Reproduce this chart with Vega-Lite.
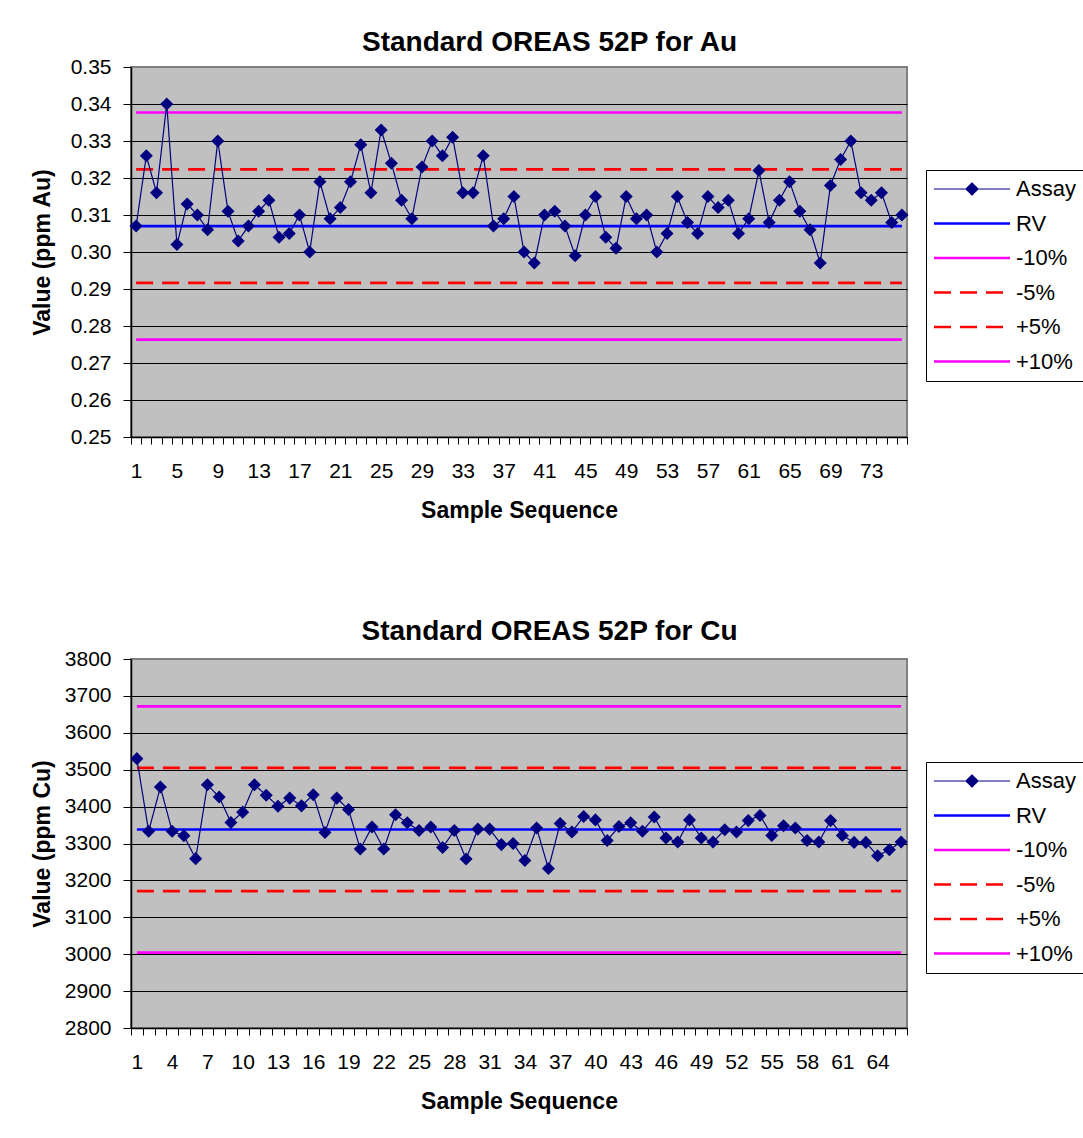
{
  "$schema": "https://vega.github.io/schema/vega-lite/v6.json",
  "padding": {"left": 30, "top": 28, "right": 0, "bottom": 0},
  "background": "white",
  "spacing": 94,
  "columns": 1,
  "align": "none",
  "center": false,
  "resolve": {"scale": {"color": "independent", "strokeDash": "independent"}, "legend": {"color": "independent", "strokeDash": "independent"}},
  "datasets": {
    "au": [
      {"i":1,"v":0.307,"series":"Assay"},{"i":2,"v":0.326,"series":"Assay"},{"i":3,"v":0.316,"series":"Assay"},{"i":4,"v":0.340,"series":"Assay"},{"i":5,"v":0.302,"series":"Assay"},
      {"i":6,"v":0.313,"series":"Assay"},{"i":7,"v":0.310,"series":"Assay"},{"i":8,"v":0.306,"series":"Assay"},{"i":9,"v":0.330,"series":"Assay"},{"i":10,"v":0.311,"series":"Assay"},
      {"i":11,"v":0.303,"series":"Assay"},{"i":12,"v":0.307,"series":"Assay"},{"i":13,"v":0.311,"series":"Assay"},{"i":14,"v":0.314,"series":"Assay"},{"i":15,"v":0.304,"series":"Assay"},
      {"i":16,"v":0.305,"series":"Assay"},{"i":17,"v":0.310,"series":"Assay"},{"i":18,"v":0.300,"series":"Assay"},{"i":19,"v":0.319,"series":"Assay"},{"i":20,"v":0.309,"series":"Assay"},
      {"i":21,"v":0.312,"series":"Assay"},{"i":22,"v":0.319,"series":"Assay"},{"i":23,"v":0.329,"series":"Assay"},{"i":24,"v":0.316,"series":"Assay"},{"i":25,"v":0.333,"series":"Assay"},
      {"i":26,"v":0.324,"series":"Assay"},{"i":27,"v":0.314,"series":"Assay"},{"i":28,"v":0.309,"series":"Assay"},{"i":29,"v":0.323,"series":"Assay"},{"i":30,"v":0.330,"series":"Assay"},
      {"i":31,"v":0.326,"series":"Assay"},{"i":32,"v":0.331,"series":"Assay"},{"i":33,"v":0.316,"series":"Assay"},{"i":34,"v":0.316,"series":"Assay"},{"i":35,"v":0.326,"series":"Assay"},
      {"i":36,"v":0.307,"series":"Assay"},{"i":37,"v":0.309,"series":"Assay"},{"i":38,"v":0.315,"series":"Assay"},{"i":39,"v":0.300,"series":"Assay"},{"i":40,"v":0.297,"series":"Assay"},
      {"i":41,"v":0.310,"series":"Assay"},{"i":42,"v":0.311,"series":"Assay"},{"i":43,"v":0.307,"series":"Assay"},{"i":44,"v":0.299,"series":"Assay"},{"i":45,"v":0.310,"series":"Assay"},
      {"i":46,"v":0.315,"series":"Assay"},{"i":47,"v":0.304,"series":"Assay"},{"i":48,"v":0.301,"series":"Assay"},{"i":49,"v":0.315,"series":"Assay"},{"i":50,"v":0.309,"series":"Assay"},
      {"i":51,"v":0.310,"series":"Assay"},{"i":52,"v":0.300,"series":"Assay"},{"i":53,"v":0.305,"series":"Assay"},{"i":54,"v":0.315,"series":"Assay"},{"i":55,"v":0.308,"series":"Assay"},
      {"i":56,"v":0.305,"series":"Assay"},{"i":57,"v":0.315,"series":"Assay"},{"i":58,"v":0.312,"series":"Assay"},{"i":59,"v":0.314,"series":"Assay"},{"i":60,"v":0.305,"series":"Assay"},
      {"i":61,"v":0.309,"series":"Assay"},{"i":62,"v":0.322,"series":"Assay"},{"i":63,"v":0.308,"series":"Assay"},{"i":64,"v":0.314,"series":"Assay"},{"i":65,"v":0.319,"series":"Assay"},
      {"i":66,"v":0.311,"series":"Assay"},{"i":67,"v":0.306,"series":"Assay"},{"i":68,"v":0.297,"series":"Assay"},{"i":69,"v":0.318,"series":"Assay"},{"i":70,"v":0.325,"series":"Assay"},
      {"i":71,"v":0.330,"series":"Assay"},{"i":72,"v":0.316,"series":"Assay"},{"i":73,"v":0.314,"series":"Assay"},{"i":74,"v":0.316,"series":"Assay"},{"i":75,"v":0.308,"series":"Assay"},
      {"i":76,"v":0.310,"series":"Assay"},
      {"i":1,"v":0.307,"series":"RV"},{"i":76,"v":0.307,"series":"RV"},
      {"i":1,"v":0.2763,"series":"-10%"},{"i":76,"v":0.2763,"series":"-10%"},
      {"i":1,"v":0.29165,"series":"-5%"},{"i":76,"v":0.29165,"series":"-5%"},
      {"i":1,"v":0.32235,"series":"+5%"},{"i":76,"v":0.32235,"series":"+5%"},
      {"i":1,"v":0.3377,"series":"+10%"},{"i":76,"v":0.3377,"series":"+10%"}
    ],
    "cu": [
      {"i":1,"v":3530,"series":"Assay"},{"i":2,"v":3333,"series":"Assay"},{"i":3,"v":3453,"series":"Assay"},{"i":4,"v":3333,"series":"Assay"},{"i":5,"v":3321,"series":"Assay"},
      {"i":6,"v":3259,"series":"Assay"},{"i":7,"v":3459,"series":"Assay"},{"i":8,"v":3426,"series":"Assay"},{"i":9,"v":3357,"series":"Assay"},{"i":10,"v":3385,"series":"Assay"},
      {"i":11,"v":3459,"series":"Assay"},{"i":12,"v":3431,"series":"Assay"},{"i":13,"v":3401,"series":"Assay"},{"i":14,"v":3423,"series":"Assay"},{"i":15,"v":3402,"series":"Assay"},
      {"i":16,"v":3432,"series":"Assay"},{"i":17,"v":3330,"series":"Assay"},{"i":18,"v":3423,"series":"Assay"},{"i":19,"v":3392,"series":"Assay"},{"i":20,"v":3285,"series":"Assay"},
      {"i":21,"v":3345,"series":"Assay"},{"i":22,"v":3285,"series":"Assay"},{"i":23,"v":3378,"series":"Assay"},{"i":24,"v":3356,"series":"Assay"},{"i":25,"v":3335,"series":"Assay"},
      {"i":26,"v":3345,"series":"Assay"},{"i":27,"v":3289,"series":"Assay"},{"i":28,"v":3335,"series":"Assay"},{"i":29,"v":3258,"series":"Assay"},{"i":30,"v":3339,"series":"Assay"},
      {"i":31,"v":3339,"series":"Assay"},{"i":32,"v":3297,"series":"Assay"},{"i":33,"v":3300,"series":"Assay"},{"i":34,"v":3254,"series":"Assay"},{"i":35,"v":3342,"series":"Assay"},
      {"i":36,"v":3232,"series":"Assay"},{"i":37,"v":3354,"series":"Assay"},{"i":38,"v":3331,"series":"Assay"},{"i":39,"v":3373,"series":"Assay"},{"i":40,"v":3364,"series":"Assay"},
      {"i":41,"v":3308,"series":"Assay"},{"i":42,"v":3346,"series":"Assay"},{"i":43,"v":3356,"series":"Assay"},{"i":44,"v":3333,"series":"Assay"},{"i":45,"v":3372,"series":"Assay"},
      {"i":46,"v":3315,"series":"Assay"},{"i":47,"v":3304,"series":"Assay"},{"i":48,"v":3364,"series":"Assay"},{"i":49,"v":3315,"series":"Assay"},{"i":50,"v":3304,"series":"Assay"},
      {"i":51,"v":3337,"series":"Assay"},{"i":52,"v":3331,"series":"Assay"},{"i":53,"v":3362,"series":"Assay"},{"i":54,"v":3376,"series":"Assay"},{"i":55,"v":3322,"series":"Assay"},
      {"i":56,"v":3348,"series":"Assay"},{"i":57,"v":3342,"series":"Assay"},{"i":58,"v":3308,"series":"Assay"},{"i":59,"v":3304,"series":"Assay"},{"i":60,"v":3362,"series":"Assay"},
      {"i":61,"v":3322,"series":"Assay"},{"i":62,"v":3303,"series":"Assay"},{"i":63,"v":3303,"series":"Assay"},{"i":64,"v":3267,"series":"Assay"},{"i":65,"v":3283,"series":"Assay"},
      {"i":66,"v":3304,"series":"Assay"},
      {"i":1,"v":3338,"series":"RV"},{"i":66,"v":3338,"series":"RV"},
      {"i":1,"v":3004.2,"series":"-10%"},{"i":66,"v":3004.2,"series":"-10%"},
      {"i":1,"v":3171.1,"series":"-5%"},{"i":66,"v":3171.1,"series":"-5%"},
      {"i":1,"v":3504.9,"series":"+5%"},{"i":66,"v":3504.9,"series":"+5%"},
      {"i":1,"v":3671.8,"series":"+10%"},{"i":66,"v":3671.8,"series":"+10%"}
    ]
  },
  "concat": [
    {
      "data": {"name": "au"},
      "width": 776,
      "height": 370,
      "title": {"text": "Standard OREAS 52P for Au", "dx": 30.5},
      "encoding": {
        "x": {"field": "i", "type": "ordinal", "bandPosition": 0.5, "title": "Sample Sequence",
          "scale": {"type": "band", "paddingInner": 0, "paddingOuter": 0},
          "axis": {"tickBand": "extent", "labelAngle": 0, "labelOverlap": false, "tickSize": 7, "labelPadding": 16, "titlePadding": 18,
            "labelExpr": "(datum.value - 1) % 4 === 0 ? datum.label : ''", "grid": false}},
        "y": {"field": "v", "type": "quantitative", "title": "Value (ppm Au)",
          "scale": {"domain": [0.25, 0.35], "nice": false, "zero": false},
          "axis": {"values": [0.25,0.26,0.27,0.28,0.29,0.30,0.31,0.32,0.33,0.34,0.35], "format": ".2f", "tickSize": 8, "labelPadding": 12, "titlePadding": 16,
            "grid": true, "gridColor": {"condition": {"test": "datum.value > 0.3495", "value": "#808080"}, "value": "#000000"}, "gridWidth": 1, "gridOpacity": 1}}
      },
      "layer": [
        {"transform": [{"filter": "datum.series !== 'Assay'"}],
         "mark": {"type": "line", "strokeWidth": 2.7},
         "encoding": {
           "color": {"field": "series", "type": "nominal",
             "scale": {"domain": ["Assay","RV","-10%","-5%","+5%","+10%"], "range": ["#000080","#0000FF","#FF00FF","#FF0000","#FF0000","#FF00FF"]},
             "legend": {"title": null, "legendX": 795, "legendY": 103,
               "encode": {"symbols": {"update": {
                 "shape": {"signal": "datum.value === 'Assay' ? 'M-1.375,0L8.125,0M3.375,-0.75L4.125,0L3.375,0.75L2.625,0Z' : 'M-1.375,0L8.125,0'"},
                 "fill": {"signal": "datum.value === 'Assay' ? '#000080' : 'transparent'"},
                 "strokeWidth": {"signal": "datum.value === 'Assay' ? 1.2 : 2.7"}}}}}},
           "strokeDash": {"field": "series", "type": "nominal",
             "scale": {"domain": ["Assay","RV","-10%","-5%","+5%","+10%"], "range": [[1,0],[1,0],[1,0],[17,9],[17,9],[1,0]]},
             "legend": {"title": null, "legendX": 795, "legendY": 103}}
         }},
        {"transform": [{"filter": "datum.series === 'Assay'"}],
         "mark": {"type": "line", "strokeWidth": 1.2},
         "encoding": {
           "color": {"field": "series", "type": "nominal",
             "scale": {"domain": ["Assay","RV","-10%","-5%","+5%","+10%"], "range": ["#000080","#0000FF","#FF00FF","#FF0000","#FF0000","#FF00FF"]}},
           "strokeDash": {"field": "series", "type": "nominal",
             "scale": {"domain": ["Assay","RV","-10%","-5%","+5%","+10%"], "range": [[1,0],[1,0],[1,0],[17,9],[17,9],[1,0]]}}
         }},
        {"transform": [{"filter": "datum.series === 'Assay'"}],
         "mark": {"type": "point", "shape": "diamond", "filled": true, "size": 170, "opacity": 1, "color": "#000080"}}
      ]
    },
    {
      "data": {"name": "cu"},
      "width": 776,
      "height": 369,
      "title": {"text": "Standard OREAS 52P for Cu", "dx": 30.5, "offset": 2},
      "encoding": {
        "x": {"field": "i", "type": "ordinal", "bandPosition": 0.5, "title": "Sample Sequence",
          "scale": {"type": "band", "paddingInner": 0, "paddingOuter": 0},
          "axis": {"tickBand": "extent", "labelAngle": 0, "labelOverlap": false, "tickSize": 7, "labelPadding": 16, "titlePadding": 18,
            "labelExpr": "(datum.value - 1) % 3 === 0 ? datum.label : ''", "grid": false}},
        "y": {"field": "v", "type": "quantitative", "title": "Value (ppm Cu)",
          "scale": {"domain": [2800, 3800], "nice": false, "zero": false},
          "axis": {"values": [2800,2900,3000,3100,3200,3300,3400,3500,3600,3700,3800], "format": "d", "tickSize": 8, "labelPadding": 12, "titlePadding": 10,
            "grid": true, "gridColor": {"condition": {"test": "datum.value > 3799", "value": "#808080"}, "value": "#000000"}, "gridWidth": 1, "gridOpacity": 1}}
      },
      "layer": [
        {"transform": [{"filter": "datum.series !== 'Assay'"}],
         "mark": {"type": "line", "strokeWidth": 2.7},
         "encoding": {
           "color": {"field": "series", "type": "nominal",
             "scale": {"domain": ["Assay","RV","-10%","-5%","+5%","+10%"], "range": ["#000080","#0000FF","#FF00FF","#FF0000","#FF0000","#FF00FF"]},
             "legend": {"title": null, "legendX": 795, "legendY": 103,
               "encode": {"symbols": {"update": {
                 "shape": {"signal": "datum.value === 'Assay' ? 'M-1.375,0L8.125,0M3.375,-0.75L4.125,0L3.375,0.75L2.625,0Z' : 'M-1.375,0L8.125,0'"},
                 "fill": {"signal": "datum.value === 'Assay' ? '#000080' : 'transparent'"},
                 "strokeWidth": {"signal": "datum.value === 'Assay' ? 1.2 : 2.7"}}}}}},
           "strokeDash": {"field": "series", "type": "nominal",
             "scale": {"domain": ["Assay","RV","-10%","-5%","+5%","+10%"], "range": [[1,0],[1,0],[1,0],[17,9],[17,9],[1,0]]},
             "legend": {"title": null, "legendX": 795, "legendY": 103}}
         }},
        {"transform": [{"filter": "datum.series === 'Assay'"}],
         "mark": {"type": "line", "strokeWidth": 1.2},
         "encoding": {
           "color": {"field": "series", "type": "nominal",
             "scale": {"domain": ["Assay","RV","-10%","-5%","+5%","+10%"], "range": ["#000080","#0000FF","#FF00FF","#FF0000","#FF0000","#FF00FF"]}},
           "strokeDash": {"field": "series", "type": "nominal",
             "scale": {"domain": ["Assay","RV","-10%","-5%","+5%","+10%"], "range": [[1,0],[1,0],[1,0],[17,9],[17,9],[1,0]]}}
         }},
        {"transform": [{"filter": "datum.series === 'Assay'"}],
         "mark": {"type": "point", "shape": "diamond", "filled": true, "size": 170, "opacity": 1, "color": "#000080"}}
      ]
    }
  ],
  "config": {
    "font": "Liberation Sans",
    "view": {"fill": "#C0C0C0", "stroke": "#808080", "strokeWidth": 2},
    "title": {"fontSize": 28, "fontWeight": "bold", "color": "#000000", "anchor": "middle", "offset": -1},
    "axis": {"labelFontSize": 21, "labelColor": "#000000", "titleFontSize": 23, "titleFontWeight": "bold", "titleColor": "#000000",
      "domainColor": "#000000", "domainWidth": 1.5, "tickColor": "#000000", "tickWidth": 1},
    "legend": {"orient": "none", "strokeColor": "#000000", "fillColor": "#FFFFFF", "padding": 8,
      "labelFontSize": 22, "labelColor": "#000000", "labelOffset": 60, "symbolSize": 256, "symbolStrokeWidth": 2.7,
      "rowPadding": 12.5, "symbolType": "stroke", "labelLimit": 200}
  }
}
